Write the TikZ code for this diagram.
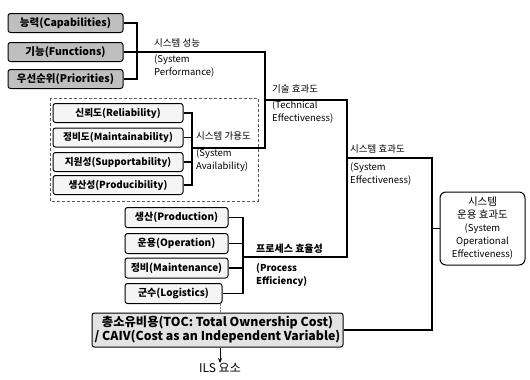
\documentclass[tikz,border=0pt]{standalone}
\usepackage{fontspec}
\setmainfont{Noto Sans CJK KR}
\usetikzlibrary{arrows.meta}
\begin{document}
\begin{tikzpicture}[x=1pt,y=-1pt,
  dbox/.style={draw, line width=1pt, rounded corners=2.5pt, fill=gray!50, inner sep=0pt,
    font=\fontsize{10.5}{12}\selectfont\bfseries},
  lbox/.style={draw, line width=1pt, rounded corners=2.5pt, fill=gray!8, inner sep=0pt,
    font=\fontsize{10}{12}\selectfont\bfseries},
  conn/.style={line width=1.3pt},
  ttl/.style={anchor=west, inner sep=0pt, font=\fontsize{9.5}{11}\selectfont},
  sub/.style={anchor=north west, inner sep=0pt, align=left, font=\fontsize{9.5}{13}\selectfont}]
\useasboundingbox (0,0) rectangle (530,380);

% top group
\node[dbox, minimum width=115pt, minimum height=19pt] (cap) at (65.5,23) {능력(Capabilities)};
\node[dbox, minimum width=115pt, minimum height=19pt] (fun) at (65.5,52) {기능(Functions)};
\node[dbox, minimum width=115pt, minimum height=19pt] (pri) at (65.5,79) {우선순위(Priorities)};

% availability group
\draw[densely dashed, line width=0.5pt, gray!70!black] (50,98) rectangle (258,201);
\node[lbox, font=\fontsize{9.7}{12}\selectfont\bfseries, minimum width=130pt, minimum height=19pt] (rel) at (118,113) {신뢰도(Reliability)};
\node[lbox, font=\fontsize{9.7}{12}\selectfont\bfseries, minimum width=130pt, minimum height=19pt] (mai) at (118,137.5) {정비도(Maintainability)};
\node[lbox, font=\fontsize{9.7}{12}\selectfont\bfseries, minimum width=130pt, minimum height=19pt] (sup) at (118,162) {지원성(Supportability)};
\node[lbox, font=\fontsize{9.7}{12}\selectfont\bfseries, minimum width=130pt, minimum height=19pt] (pro) at (118,185) {생산성(Producibility)};

% process group
\node[lbox, minimum width=103pt, minimum height=20pt] (prd) at (176.5,217.5) {생산(Production)};
\node[lbox, minimum width=103pt, minimum height=20pt] (ope) at (176.5,243.5) {운용(Operation)};
\node[lbox, minimum width=103pt, minimum height=20pt] (mnt) at (176.5,268) {정비(Maintenance)};
\node[lbox, minimum width=97pt, minimum height=20pt] (log) at (173.5,293.5) {군수(Logistics)};

% TOC
\node[dbox, fill=gray!22, minimum width=251pt, minimum height=34pt, align=center,
  font=\fontsize{12.3}{14}\selectfont\bfseries] (toc) at (217.5,330)
  {총소유비용(TOC: Total Ownership Cost)\\/ CAIV(Cost as an Independent Variable)};
\node[inner sep=0pt, font=\fontsize{12}{14}\selectfont] (ils) at (220,368) {ILS 요소};

% system operational effectiveness
\node[draw, line width=1pt, rounded corners=6pt, minimum width=85pt, minimum height=73pt,
  inner sep=0pt, align=center, font=\fontsize{9.5}{13}\selectfont] (soe) at (482.5,228.5)
  {{\fontsize{10.5}{13}\selectfont 시스템}\\{\fontsize{10.5}{13}\selectfont 운용 효과도}\\(System\\Operational\\Effectiveness)};

% junction coordinates
\coordinate (j1) at (137,52);
\coordinate (c1) at (265,52);
\coordinate (c3) at (265,100);
\coordinate (j2) at (192,148);
\coordinate (c2) at (265,148);
\coordinate (d1) at (347,100);
\coordinate (d2) at (347,158);
\coordinate (j3) at (243,257);
\coordinate (d3) at (347,257);
\coordinate (e1) at (432,158);
\coordinate (e2) at (432,228.5);
\coordinate (e3) at (432,330);

% brackets
\draw[conn] (cap.east) -| (j1);
\draw[conn] (pri.east) -| (j1);
\draw[conn] (fun.east) -- (j1) -- (c1) -- (c2) -- (j2);
\draw[conn] (rel.east) -| (j2);
\draw[conn] (pro.east) -| (j2);
\draw[conn] (mai.east) -- (mai.east -| j2);
\draw[conn] (sup.east) -- (sup.east -| j2);
\draw[conn] (c3) -- (d1) -- (d3) -- (j3);
\draw[conn] (prd.east) -| (j3);
\draw[conn] (log.east) -| (j3);
\draw[conn] (ope.east) -- (ope.east -| j3);
\draw[conn] (mnt.east) -- (mnt.east -| j3);
\draw[conn] (d2) -- (e1) -- (e3) -- (toc.east);
\draw[conn] (e2) -- (soe.west);
\draw[densely dotted, line width=0.4pt, gray] (log.south -| ils.north) -- (toc.north -| ils.north);
\draw[line width=0.8pt, -{Stealth[length=5pt,width=4pt]}] (toc.south -| ils.north) -- (ils.north);

% labels
\node[ttl] (l1) at (154,43) {시스템 성능};
\node[sub] (l1e) at (154,55) {(System\\Performance)};
\node[ttl] (l2) at (272,89) {기술 효과도};
\node[sub] (l2e) at (272,101) {(Technical\\Effectiveness)};
\node[ttl] (l3) at (350,149) {시스템 효과도};
\node[sub] (l3e) at (350,163) {(System\\Effectiveness)};
\node[ttl] (l4) at (196,136) {시스템 가용도};
\node[sub] (l4e) at (196,149) {(System\\Availability)};
\node[ttl, font=\fontsize{10}{11}\selectfont\bfseries] (l5) at (256,249) {프로세스 효율성};
\node[sub, font=\fontsize{9.5}{13}\selectfont\bfseries] (l5e) at (256,263) {(Process\\Efficiency)};
\end{tikzpicture}
\end{document}
